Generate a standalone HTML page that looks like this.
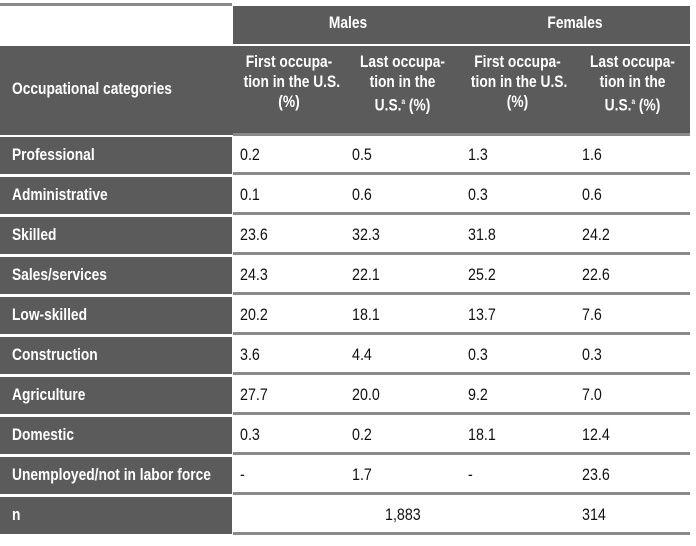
<!DOCTYPE html>
<html><head><meta charset="utf-8"><style>
body{margin:0;width:696px;height:546px;background:#fff;position:relative;overflow:hidden;font-family:"Liberation Sans",sans-serif;}
div{position:absolute;box-sizing:border-box}
.dk{background:#5b5b5b;color:#fff;font-weight:bold}
.t{font-size:17px;line-height:20px;white-space:nowrap;transform:scaleX(0.81);transform-origin:left center}
.h{color:#fff;font-size:17px;line-height:20px;text-align:center;font-weight:bold;white-space:nowrap;transform:scaleX(0.81);transform-origin:center center}
.c{color:#111;font-size:17px;line-height:20px;white-space:nowrap;transform:scaleX(0.84);transform-origin:left center}
.ln{background:#8a8a8a;height:3px}
</style></head><body>
<div class="ln" style="left:0;top:3px;width:232px;height:3px"></div>
<div class="dk" style="left:233px;top:6px;width:457px;height:38px"></div>
<div class="h" style="left:233px;top:13px;width:230px">Males</div>
<div class="h" style="left:460px;top:13px;width:230px">Females</div>
<div class="dk" style="left:0;top:46px;width:690px;height:89px"></div>
<div class="t" style="left:12px;top:79px;color:#fff;font-weight:bold">Occupational categories</div>
<div class="h" style="left:233px;top:52px;width:112px">First occupa-<br>tion in the U.S.<br>(%)</div>
<div class="h" style="left:345px;top:52px;width:115px">Last occupa-<br>tion in the<br>U.S.<sup style="font-size:8px">a</sup> (%)</div>
<div class="h" style="left:460px;top:52px;width:115px">First occupa-<br>tion in the U.S.<br>(%)</div>
<div class="h" style="left:575px;top:52px;width:115px">Last occupa-<br>tion in the<br>U.S.<sup style="font-size:8px">a</sup> (%)</div>
<script>
const cats=["Professional","Administrative","Skilled","Sales/services","Low-skilled","Construction","Agriculture","Domestic","Unemployed/not in labor force","n"];
const maleFirst=["0.2","0.1","23.6","24.3","20.2","3.6","27.7","0.3","-",""];
const maleLast=["0.5","0.6","32.3","22.1","18.1","4.4","20.0","0.2","1.7",""];
const femFirst=["1.3","0.3","31.8","25.2","13.7","0.3","9.2","18.1","-",""];
const femLast=["1.6","0.6","24.2","22.6","7.6","0.3","7.0","12.4","23.6","314"];
const colX=[240,352,468,582];
const b=document.body;
function mk(name,cls,style,txt){const d=document.createElement('div');


d.className=cls;d.style.cssText=style;if(txt!==undefined)d.textContent=txt;b.appendChild(d);return d;}
cats.forEach((c,i)=>{
 const y=135+i*40;
 mk('row-label-bg','dk','left:0;top:'+(y+2)+'px;width:232px;height:37px');
 mk('row-label','t','left:12px;top:'+(y+10)+'px;color:#fff;font-weight:bold',c);
 mk('row-rule','ln','left:233px;top:'+(y+37)+'px;width:457px');
 [maleFirst,maleLast,femFirst,femLast].forEach((arr,j)=>{
  if(arr[i]!=="") mk('cell','c','left:'+colX[j]+'px;top:'+(y+10)+'px',arr[i]);
 });
});
mk('n-male','c','left:385px;top:505px','1,883');
mk('header-rule','ln','left:233px;top:133px;width:457px');
</script>
</body></html>
